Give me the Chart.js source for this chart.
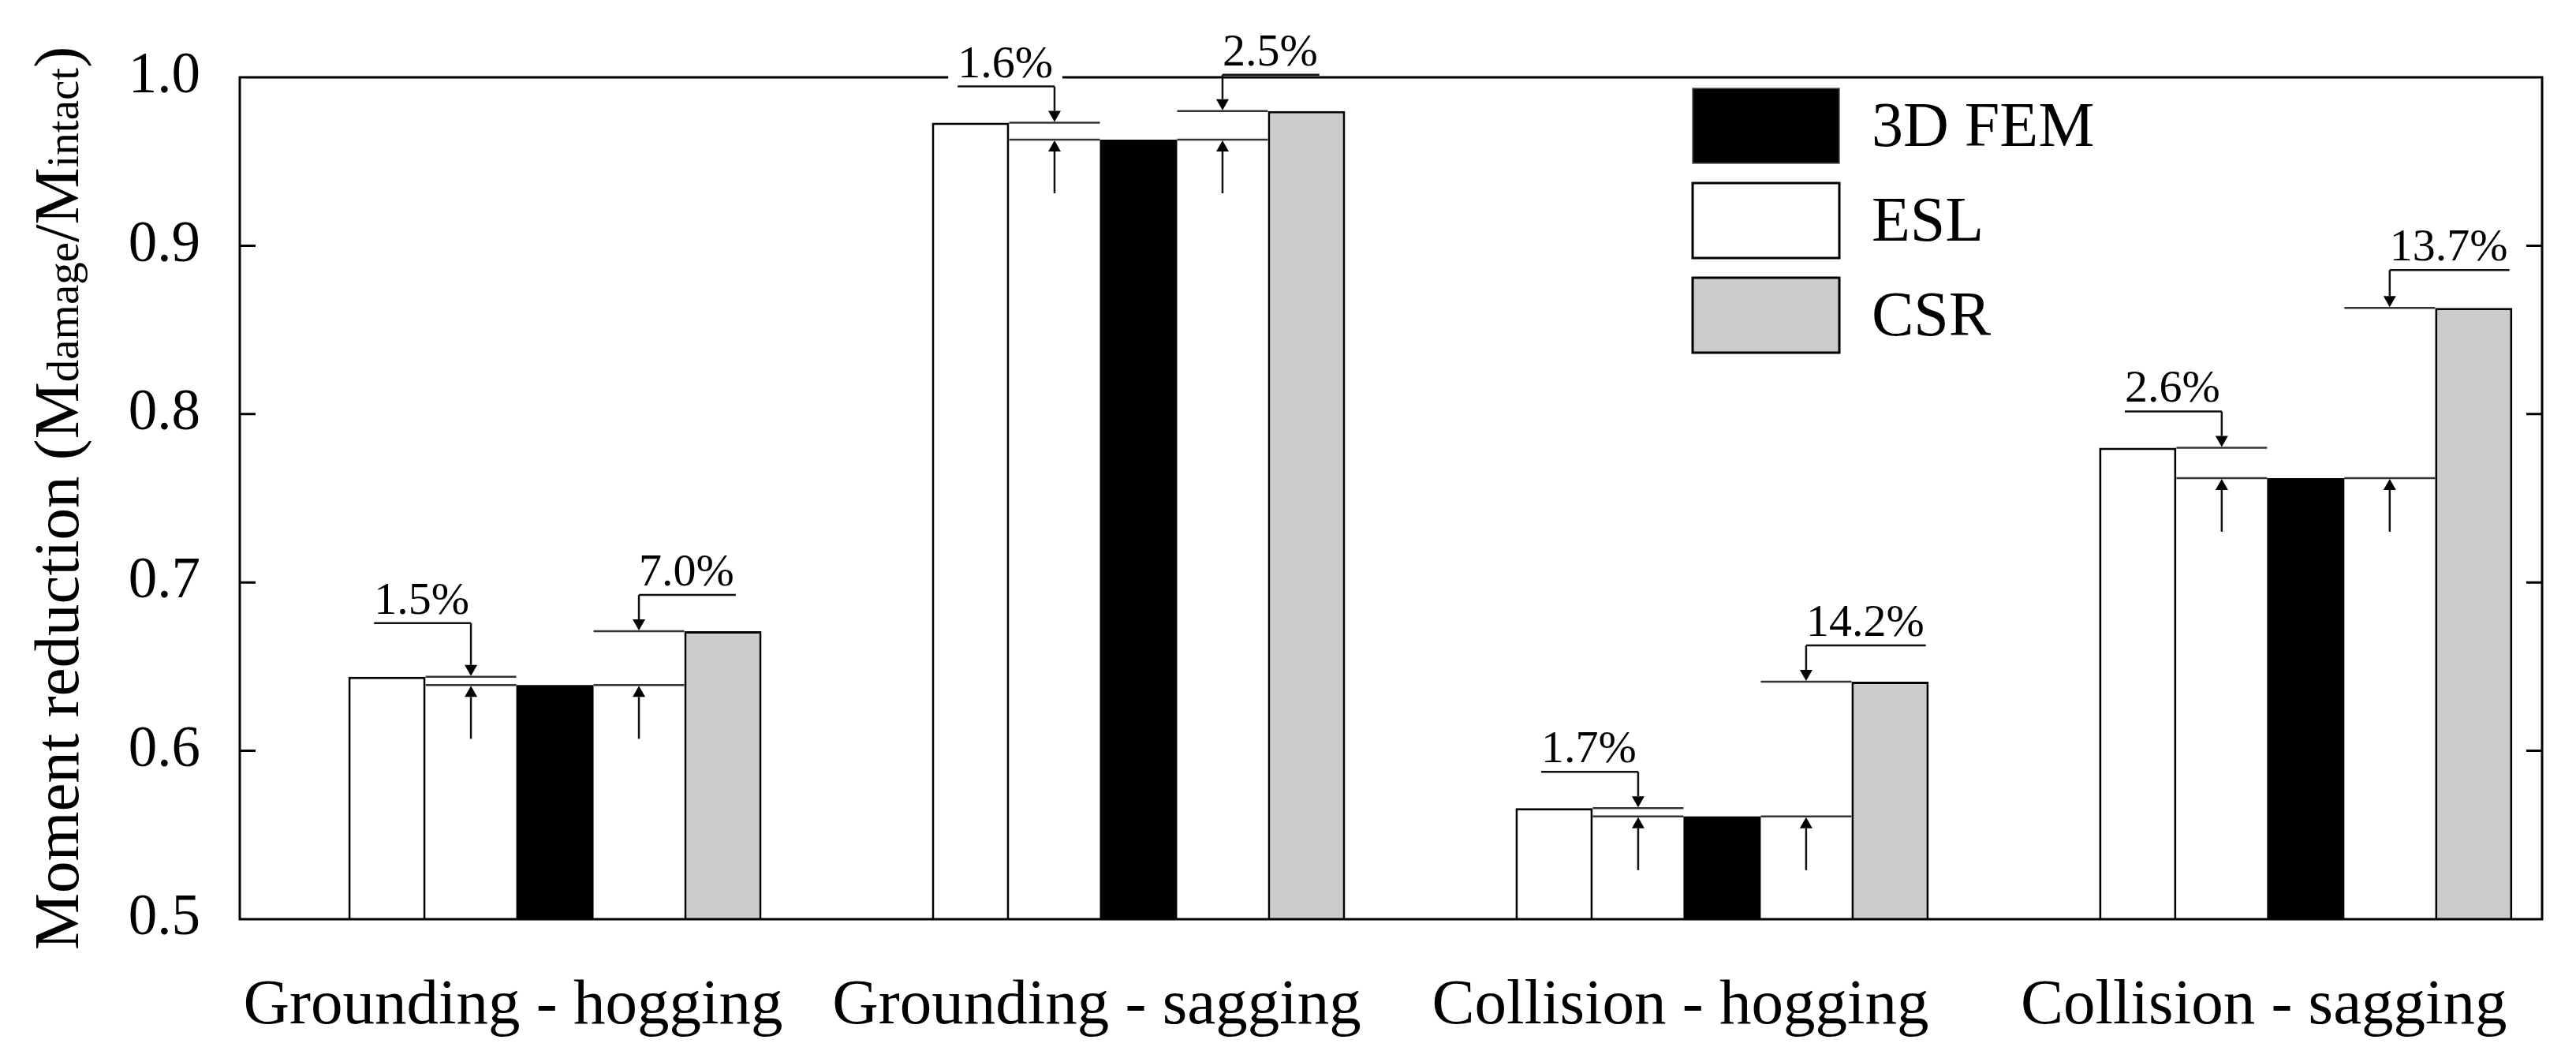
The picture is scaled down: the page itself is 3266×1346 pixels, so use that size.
<!DOCTYPE html>
<html><head><meta charset="utf-8">
<script src="https://cdn.jsdelivr.net/npm/chart.js@4.4.0/dist/chart.umd.min.js"></script>
<style>html,body{margin:0;padding:0;background:#fff;overflow:hidden}canvas{display:block}</style>
</head><body>
<canvas id="c" width="3266" height="1346"></canvas>
<script>
// ---- data ----
const categories = ['Grounding - hogging', 'Grounding - sagging', 'Collision - hogging', 'Collision - sagging'];
const eslValues = [0.644, 0.973, 0.566, 0.780];
const femValues = [0.639, 0.963, 0.561, 0.762];
const csrValues = [0.671, 0.980, 0.641, 0.863];
const eslDiffLabels = ['1.5%', '1.6%', '1.7%', '2.6%'];
const csrDiffLabels = ['7.0%', '2.5%', '14.2%', '13.7%'];
const yTickValues = [0.5, 0.6, 0.7, 0.8, 0.9, 1.0];
const seriesNames = ['ESL', '3D FEM', 'CSR'];
const legendOrder = [1, 0, 2];
const yTitleParts = [
  ['Moment reduction (M', 'main'], ['damage', 'sub'], ['/M', 'main'], ['intact', 'sub'], [')', 'main']
];

const F = "'Liberation Serif', 'Times New Roman', serif";

const framePlugin = {
  id: 'frame',
  afterDatasetsDraw(chart, args, o) {
    const { ctx, chartArea: a, scales: { y } } = chart;
    ctx.save();
    ctx.strokeStyle = '#000';
    ctx.lineWidth = 3;
    ctx.strokeRect(a.left, a.top, a.right - a.left, a.bottom - a.top);
    ctx.beginPath();
    yTickValues.forEach(v => {
      if (v <= y.min + 1e-9 || v >= y.max - 1e-9) return;
      const p = y.getPixelForValue(v);
      ctx.moveTo(a.left, p); ctx.lineTo(a.left + o.tickLen, p);
      ctx.moveTo(a.right, p); ctx.lineTo(a.right - o.tickLen, p);
    });
    ctx.stroke();
    ctx.restore();
  }
};

function arrow(ctx, x, yFrom, yTo, head, half) {
  const dir = yTo > yFrom ? 1 : -1;
  ctx.beginPath();
  ctx.moveTo(x, yFrom); ctx.lineTo(x, yTo - dir * head);
  ctx.stroke();
  ctx.beginPath();
  ctx.moveTo(x, yTo);
  ctx.lineTo(x - half, yTo - dir * head);
  ctx.lineTo(x + half, yTo - dir * head);
  ctx.closePath();
  ctx.fill();
}

const diffPlugin = {
  id: 'diff',
  afterDatasetsDraw(chart, args, o) {
    const { ctx, scales: { y } } = chart;
    const mE = chart.getDatasetMeta(0), mF = chart.getDatasetMeta(1), mC = chart.getDatasetMeta(2);
    ctx.save();
    ctx.strokeStyle = '#222';
    ctx.fillStyle = '#000';
    ctx.lineWidth = 2.5;
    ctx.font = o.fontSize + 'px ' + F;
    ctx.textAlign = 'left';
    ctx.textBaseline = 'alphabetic';
    categories.forEach((c, i) => {
      const e = mE.data[i], f = mF.data[i], s = mC.data[i];
      const eR = e.x + e.width / 2, fL = f.x - f.width / 2, fR = f.x + f.width / 2, cL = s.x - s.width / 2;
      const yE = y.getPixelForValue(eslValues[i]);
      const yF = y.getPixelForValue(femValues[i]);
      const yC = y.getPixelForValue(csrValues[i]);
      const g1 = (eR + fL) / 2, g2 = (fR + cL) / 2;
      ctx.strokeStyle = '#333';
      ctx.beginPath();
      ctx.moveTo(eR, yE); ctx.lineTo(fL, yE);
      ctx.moveTo(eR, yF); ctx.lineTo(fL, yF);
      ctx.moveTo(fR, yF); ctx.lineTo(cL, yF);
      ctx.moveTo(fR, yC); ctx.lineTo(cL, yC);
      ctx.stroke();
      ctx.strokeStyle = '#111';
      // up arrows to FEM level
      arrow(ctx, g1, yF + o.upLen, yF + 1, o.head, o.half);
      arrow(ctx, g2, yF + o.upLen, yF + 1, o.head, o.half);
      // ESL difference (leader to the left)
      const t1 = eslDiffLabels[i], w1 = ctx.measureText(t1).width;
      const l1 = yE - o.liftEsl[i];
      const x1 = g1 - (w1 + 2);
      ctx.fillStyle = '#fff';
      ctx.fillRect(x1 - o.bgPad, l1 - o.textGap - o.fontSize * 0.72, w1 + 2 * o.bgPad, o.fontSize * 0.72 + o.textGap - 5);
      ctx.fillStyle = '#000';
      ctx.fillText(t1, x1, l1 - o.textGap);
      ctx.beginPath(); ctx.moveTo(x1, l1); ctx.lineTo(g1, l1); ctx.stroke();
      arrow(ctx, g1, l1, yE - 1, o.head, o.half);
      // CSR difference (leader to the right)
      const t2 = csrDiffLabels[i], w2 = ctx.measureText(t2).width;
      const l2 = yC - o.liftCsr[i];
      ctx.fillStyle = '#fff';
      ctx.fillRect(g2 - o.bgPad, l2 - o.textGap - o.fontSize * 0.72, w2 + 2 * o.bgPad, o.fontSize * 0.72 + o.textGap - 5);
      ctx.fillStyle = '#000';
      ctx.fillText(t2, g2, l2 - o.textGap);
      ctx.beginPath(); ctx.moveTo(g2, l2); ctx.lineTo(g2 + w2 + 2, l2); ctx.stroke();
      arrow(ctx, g2, l2, yC - 1, o.head, o.half);
    });
    ctx.restore();
  }
};

const legendPlugin = {
  id: 'boxLegend',
  afterDraw(chart, args, o) {
    const { ctx, chartArea: a } = chart;
    ctx.save();
    ctx.font = o.fontSize + 'px ' + F;
    ctx.textBaseline = 'middle';
    ctx.textAlign = 'left';
    legendOrder.forEach((di, k) => {
      const ds = chart.data.datasets[di];
      const x = a.left + o.left, y = a.top + o.top + k * o.pitch;
      ctx.fillStyle = ds.backgroundColor;
      ctx.fillRect(x, y, o.boxW, o.boxH);
      ctx.lineWidth = ds.borderWidth > 0 ? 3 : 1.5;
      ctx.strokeStyle = ds.borderWidth > 0 ? '#000' : '#555';
      ctx.strokeRect(x, y, o.boxW, o.boxH);
      ctx.fillStyle = '#000';
      ctx.fillText(ds.label, x + o.textX, y + o.boxH / 2 + 4);
    });
    ctx.restore();
  }
};

const yTitlePlugin = {
  id: 'yTitle',
  afterDraw(chart, args, o) {
    const { ctx, chartArea: a } = chart;
    ctx.save();
    const fontOf = k => (k === 'main' ? o.mainSize : o.subSize) + 'px ' + F;
    let total = 0;
    yTitleParts.forEach(([t, k]) => { ctx.font = fontOf(k); total += ctx.measureText(t).width; });
    const cy = (a.top + a.bottom) / 2;
    ctx.translate(o.baselineX, cy + total / 2);
    ctx.rotate(-Math.PI / 2);
    ctx.fillStyle = '#000';
    ctx.textBaseline = 'alphabetic';
    ctx.textAlign = 'left';
    let x = 0;
    yTitleParts.forEach(([t, k]) => {
      ctx.font = fontOf(k);
      ctx.fillText(t, x, 0);
      x += ctx.measureText(t).width;
    });
    ctx.restore();
  }
};

const colors = ['#ffffff', '#000000', '#cbcbcb'];
const valueSets = [eslValues, femValues, csrValues];

new Chart(document.getElementById('c').getContext('2d'), {
  type: 'bar',
  data: {
    datasets: valueSets.map((vals, d) => ({
      label: seriesNames[d],
      data: vals.map((v, i) => ({ x: i, y: v })),
      backgroundColor: colors[d],
      borderColor: '#000',
      borderWidth: d === 1 ? 0 : 3,
      categoryPercentage: 0.8635,
      barPercentage: 0.46
    }))
  },
  options: {
    responsive: false,
    devicePixelRatio: 1,
    animation: false,
    layout: { padding: { top: 98, right: 43, bottom: 0, left: 0 } },
    scales: {
      x: {
        type: 'linear', min: -0.54, max: 3.405, offset: false,
        grid: { display: false, drawTicks: false }, border: { display: false },
        afterBuildTicks: s => { s.ticks = categories.map((_, i) => ({ value: i })); },
        ticks: {
          font: { size: 81, family: F }, color: '#000', padding: 62, labelOffset: -53,
          maxRotation: 0, autoSkip: false, callback: v => categories[v]
        },
        afterFit: s => { s.height = 181; s.paddingLeft = 0; s.paddingRight = 0; }
      },
      y: {
        min: 0.5, max: 1.0,
        grid: { display: false, drawTicks: false }, border: { display: false },
        afterBuildTicks: s => { s.ticks = yTickValues.map(v => ({ value: v })); },
        ticks: { font: { size: 73, family: F }, color: '#000', padding: 50, callback: v => v.toFixed(1) },
        afterFit: s => { s.width = 304; s.paddingTop = 0; s.paddingBottom = 0; }
      }
    },
    plugins: {
      legend: { display: false },
      tooltip: { enabled: false },
      frame: { tickLen: 20 },
      diff: { fontSize: 58, upLen: 68, head: 14, half: 8, textGap: 12, bgPad: 12,
              liftEsl: [68, 46, 46, 46], liftCsr: [46, 46, 46, 48] },
      boxLegend: { left: 1842, top: 14, pitch: 120, boxW: 186, boxH: 95, textX: 227, fontSize: 80 },
      yTitle: { baselineX: 99, mainSize: 81, subSize: 57 }
    }
  },
  plugins: [framePlugin, diffPlugin, legendPlugin, yTitlePlugin]
});
</script>
</body></html>
